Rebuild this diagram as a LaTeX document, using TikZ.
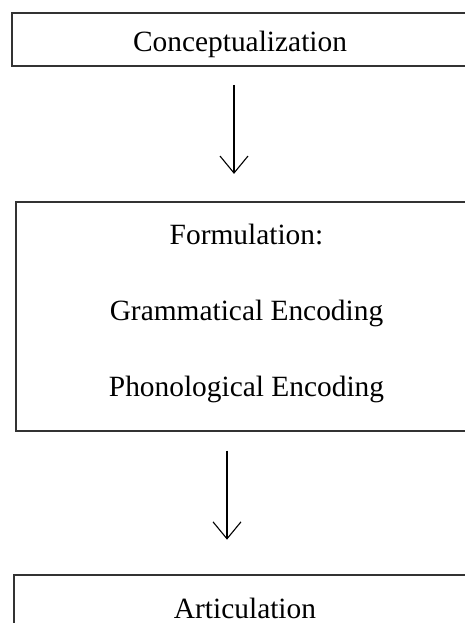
\documentclass[tikz,border=0pt]{standalone}
\usepackage{fontspec}
\setmainfont{Liberation Serif}
\usetikzlibrary{positioning,arrows.meta}
\definecolor{boxline}{rgb}{.2,.2,.2}

\begin{document}
\begin{tikzpicture}[x=1pt,y=1pt,
    every node/.style={
      align=center,  % so that "\\" breaks the line
      font=\fontsize{29.4}{76}\selectfont
    },
    stage/.style={rectangle,draw=boxline,line width=1.8pt,inner sep=0pt},
    every edge/.style={draw,line width=1.1pt,-{Straight Barb[length=17pt,width=28pt]}}
  ]
  \useasboundingbox (0,0) rectangle (465,-623);
  \node[stage,minimum width=456pt,text height=39pt,text depth=14pt](R1) at (240,-39.5){Conceptualization};
  \node[stage,minimum width=461pt,minimum height=229pt](R2)[below=134pt of R1,xshift=6.5pt]{Formulation:\\ Grammatical Encoding\\ Phonological Encoding\rule[-11.4pt]{0pt}{11.4pt}};
  \node[stage,minimum width=462pt,text height=44pt,text depth=7pt](R3)[below=142pt of R2,xshift=-1.5pt]{Articulation};
  \path
  ([xshift=-6pt]R1.south) edge [shorten <=18pt,shorten >=27pt] ([xshift=-12.5pt]R2.north)
  ([xshift=-19.5pt]R2.south) edge [shorten <=19pt,shorten >=34pt] ([xshift=-18pt]R3.north)
  ;
\end{tikzpicture}
\end{document}
